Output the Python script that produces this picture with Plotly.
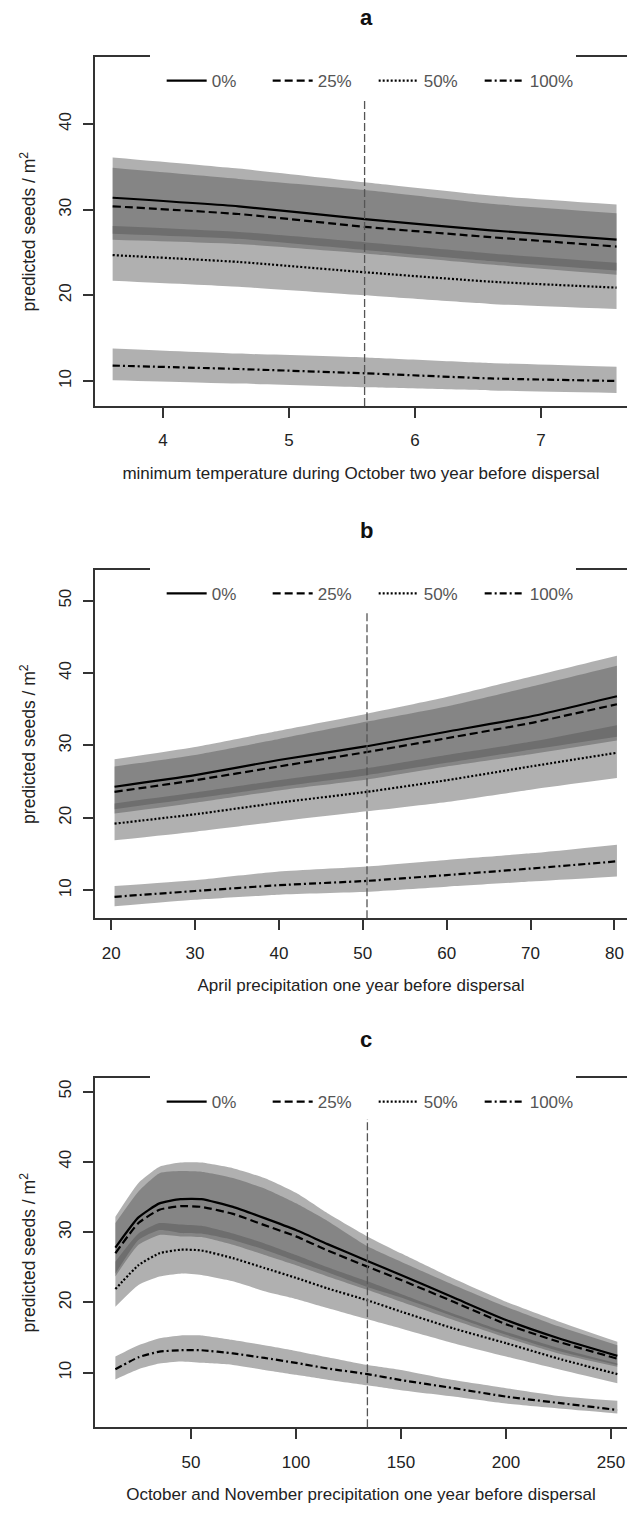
import plotly.graph_objects as go

# ---------------- data ----------------
levels = ["0%", "25%", "50%", "100%"]

# panel a : minimum temperature during October two year before dispersal
a_x = [3.6, 4.6, 5.6, 6.6, 7.6]
a_fit_0 = [31.4, 30.4, 28.9, 27.6, 26.5]
a_fit_25 = [30.4, 29.5, 28.0, 26.8, 25.7]
a_fit_50 = [24.7, 23.9, 22.7, 21.6, 20.9]
a_fit_100 = [11.8, 11.4, 10.9, 10.3, 10.0]
a_up_0 = [36.1, 34.8, 33.2, 31.65, 30.6]
a_up_25 = [34.9, 33.6, 32.3, 30.7, 29.6]
a_up_50 = [28.1, 27.4, 26.2, 24.9, 23.8]
a_up_100 = [13.8, 13.2, 12.75, 12.1, 11.65]
a_lo_0 = [27.2, 26.6, 25.3, 24.0, 22.9]
a_lo_25 = [26.5, 26.0, 24.9, 23.6, 22.4]
a_lo_50 = [21.7, 21.0, 20.0, 19.0, 18.4]
a_lo_100 = [10.1, 9.7, 9.26, 8.9, 8.6]
a_vline = 5.6
a_xticks = [4, 5, 6, 7]
a_yticks = [10, 20, 30, 40]

# panel b : April precipitation one year before dispersal
b_x = [20.4, 30, 40, 50.5, 60, 70, 80.3]
b_fit_0 = [24.3, 25.9, 28.0, 29.9, 31.9, 34.0, 36.8]
b_fit_25 = [23.6, 25.2, 27.1, 29.1, 31.0, 33.1, 35.7]
b_fit_50 = [19.2, 20.5, 22.1, 23.6, 25.2, 27.1, 29.0]
b_fit_100 = [9.1, 9.9, 10.7, 11.3, 12.1, 13.0, 14.0]
b_up_0 = [28.1, 29.8, 32.05, 34.4, 36.7, 39.5, 42.4]
b_up_25 = [27.1, 28.7, 30.9, 33.3, 35.4, 38.1, 41.0]
b_up_50 = [22.0, 23.5, 25.2, 26.85, 28.7, 30.5, 32.8]
b_up_100 = [10.6, 11.4, 12.6, 13.3, 14.2, 15.1, 16.3]
b_lo_0 = [21.2, 22.7, 24.3, 25.9, 27.6, 29.4, 31.2]
b_lo_25 = [20.6, 22.1, 23.8, 25.3, 27.1, 28.8, 30.7]
b_lo_50 = [16.9, 18.1, 19.5, 20.9, 22.2, 23.9, 25.5]
b_lo_100 = [7.8, 8.7, 9.4, 9.8, 10.5, 11.2, 11.9]
b_vline = 50.5
b_xticks = [20, 30, 40, 50, 60, 70, 80]
b_yticks = [10, 20, 30, 40, 50]

# panel c : October and November precipitation one year before dispersal
c_x = [14, 25, 35, 45, 55, 70, 85, 100, 115, 134, 150, 175, 200, 225, 253]
c_fit_0 = [27.8, 32.1, 34.1, 34.7, 34.7, 33.6, 32.0, 30.3, 28.3, 25.9, 23.9, 20.7, 17.5, 14.9, 12.4]
c_fit_25 = [27.0, 31.3, 33.2, 33.7, 33.6, 32.6, 31.0, 29.4, 27.4, 25.1, 23.2, 20.1, 16.9, 14.4, 12.0]
c_fit_50 = [21.9, 25.3, 27.0, 27.5, 27.4, 26.3, 24.9, 23.5, 22.0, 20.3, 18.7, 16.3, 14.2, 12.0, 9.8]
c_fit_100 = [10.5, 12.2, 13.0, 13.2, 13.2, 12.75, 12.1, 11.4, 10.6, 9.8, 8.95, 7.8, 6.6, 5.7, 4.7]
c_up_0 = [32.2, 37.0, 39.3, 39.9, 39.9, 39.1, 37.7, 35.6, 32.7, 29.4, 27.0, 23.4, 20.1, 17.3, 14.4]
c_up_25 = [31.3, 35.8, 38.4, 38.7, 38.6, 37.7, 36.2, 34.1, 31.6, 28.0, 25.8, 22.5, 19.4, 16.6, 13.9]
c_up_50 = [25.8, 29.8, 31.3, 31.1, 30.9, 29.8, 28.4, 26.75, 25.0, 23.0, 21.2, 18.4, 15.8, 13.5, 11.3]
c_up_100 = [12.3, 13.9, 14.9, 15.3, 15.3, 14.65, 13.9, 13.1, 12.2, 11.1, 10.4, 8.95, 7.8, 6.7, 6.0]
c_lo_0 = [24.1, 28.9, 30.3, 29.9, 29.8, 28.9, 27.5, 25.9, 24.3, 22.2, 20.7, 18.0, 15.4, 13.1, 11.1]
c_lo_25 = [23.7, 28.2, 29.6, 29.4, 29.3, 28.2, 26.75, 25.3, 23.7, 21.8, 20.1, 17.5, 15.0, 12.75, 10.85]
c_lo_50 = [19.4, 22.5, 23.7, 24.1, 23.9, 23.0, 21.6, 20.5, 19.2, 17.6, 16.3, 14.2, 12.3, 10.5, 8.5]
c_lo_100 = [9.05, 10.5, 11.3, 11.6, 11.4, 11.1, 10.4, 9.7, 9.0, 8.2, 7.5, 6.6, 5.6, 4.9, 4.2]
c_vline = 134
c_xticks = [50, 100, 150, 200, 250]
c_yticks = [10, 20, 30, 40, 50]

panel_titles = ["a", "b", "c"]
x_titles = [
    "minimum temperature during October two year before dispersal",
    "April precipitation one year before dispersal",
    "October and November precipitation one year before dispersal",
]
y_title = "predicted seeds / m<sup>2</sup>"

# ---------------- styling / layout constants ----------------
W, H = 627, 1513
ML = 95
dashes = ["solid", "8px,4px", "2px,2px", "7px,3px,2px,3px"]
band_color = "rgba(82,82,82,0.46)"
axis_color = "#333333"
text_color = "#222222"

# pixel boxes (top, bottom) of each plot region and axis ranges
boxes = [(57.3, 406.0), (570.0, 918.3), (1078.3, 1427.3)]
title_y_px = [18, 530, 1039]
x_ranges = [[3.46, 7.683], [18.07, 81.5], [4.3, 257.6]]
y_ranges = [[7.08, 47.8], [6.13, 54.24], [2.23, 51.9]]
center_px = 366
legend_left_px = 150

panels = [
    dict(x=a_x, fit=[a_fit_0, a_fit_25, a_fit_50, a_fit_100],
         up=[a_up_0, a_up_25, a_up_50, a_up_100],
         lo=[a_lo_0, a_lo_25, a_lo_50, a_lo_100],
         vline=a_vline, xt=a_xticks, yt=a_yticks),
    dict(x=b_x, fit=[b_fit_0, b_fit_25, b_fit_50, b_fit_100],
         up=[b_up_0, b_up_25, b_up_50, b_up_100],
         lo=[b_lo_0, b_lo_25, b_lo_50, b_lo_100],
         vline=b_vline, xt=b_xticks, yt=b_yticks),
    dict(x=c_x, fit=[c_fit_0, c_fit_25, c_fit_50, c_fit_100],
         up=[c_up_0, c_up_25, c_up_50, c_up_100],
         lo=[c_lo_0, c_lo_25, c_lo_50, c_lo_100],
         vline=c_vline, xt=c_xticks, yt=c_yticks),
]

fig = go.Figure()
layout = dict(
    width=W, height=H,
    margin=dict(l=ML, r=0, t=0, b=0, pad=0),
    plot_bgcolor="white", paper_bgcolor="white",
    font=dict(family="Liberation Sans, Arial, sans-serif", size=17, color=text_color),
    showlegend=True,
    annotations=[], shapes=[],
)

line_shape = dict(shape="spline", smoothing=0.5)
for i, p in enumerate(panels):
    n = "" if i == 0 else str(i + 1)
    xa, ya = "x" + n, "y" + n
    lg = "legend" + n
    top, bot = boxes[i]
    dom = [1 - bot / H, 1 - top / H]
    # confidence bands
    for k in range(4):
        fig.add_trace(go.Scatter(x=p["x"], y=p["lo"][k], xaxis=xa, yaxis=ya,
                                 mode="lines", line=dict(width=0, **line_shape),
                                 showlegend=False, hoverinfo="skip", legend=lg))
        fig.add_trace(go.Scatter(x=p["x"], y=p["up"][k], xaxis=xa, yaxis=ya,
                                 mode="lines", line=dict(width=0, **line_shape),
                                 fill="tonexty", fillcolor=band_color,
                                 showlegend=False, hoverinfo="skip", legend=lg))
    # fitted lines
    for k in range(4):
        fig.add_trace(go.Scatter(x=p["x"], y=p["fit"][k], xaxis=xa, yaxis=ya,
                                 mode="lines", name=levels[k], legend=lg,
                                 line=dict(color="black", width=2.2, dash=dashes[k], **line_shape)))
    layout["xaxis" + n] = dict(
        domain=[0, 1], anchor=ya, range=x_ranges[i], tickvals=p["xt"],
        ticks="outside", ticklen=10, tickwidth=1.5, tickcolor=axis_color,
        showline=True, linecolor=axis_color, linewidth=1.6, mirror=True,
        showgrid=False, zeroline=False, ticklabelstandoff=8,
        tickfont=dict(size=17, color=text_color),
        title=dict(text=x_titles[i], font=dict(size=17, color=text_color), standoff=18),
    )
    layout["yaxis" + n] = dict(
        domain=dom, anchor=xa, range=y_ranges[i], tickvals=p["yt"],
        ticks="outside", ticklen=10, tickwidth=1.5, tickcolor=axis_color,
        showline=True, linecolor=axis_color, linewidth=1.6, mirror=False,
        showgrid=False, zeroline=False, tickangle=-90, ticklabelstandoff=5,
        tickfont=dict(size=17, color=text_color),
        title=dict(text=y_title, font=dict(size=17.5, color=text_color), standoff=16),
    )
    layout[lg] = dict(
        orientation="h", traceorder="normal",
        x=(legend_left_px - ML) / (W - ML), xanchor="left",
        y=dom[1] + 2 / H, yanchor="top", xref="paper", yref="paper",
        bgcolor="white", borderwidth=0,
        font=dict(size=17, color="#555555"),
        entrywidth=41, entrywidthmode="pixels", itemwidth=40, indentation=10,
        title=dict(text="&nbsp;", side="top left", font=dict(size=6)),
    )
    layout["shapes"].append(dict(
        type="line", xref=xa, yref=ya + " domain", x0=p["vline"], x1=p["vline"],
        y0=0, y1=1, line=dict(color="#555555", width=1.3, dash="8px,3px"), layer="above"))
    layout["annotations"].append(dict(
        text="<b>%s</b>" % panel_titles[i], xref="paper", yref="paper",
        x=(center_px - ML) / (W - ML), y=1 - title_y_px[i] / H,
        xanchor="center", yanchor="middle", showarrow=False,
        font=dict(size=22, color="#111111")))

fig.update_layout(**layout)
fig.write_html("out.html", config={"displayModeBar": False},
               post_script="document.body.style.margin='0';document.body.style.overflow='hidden';")
